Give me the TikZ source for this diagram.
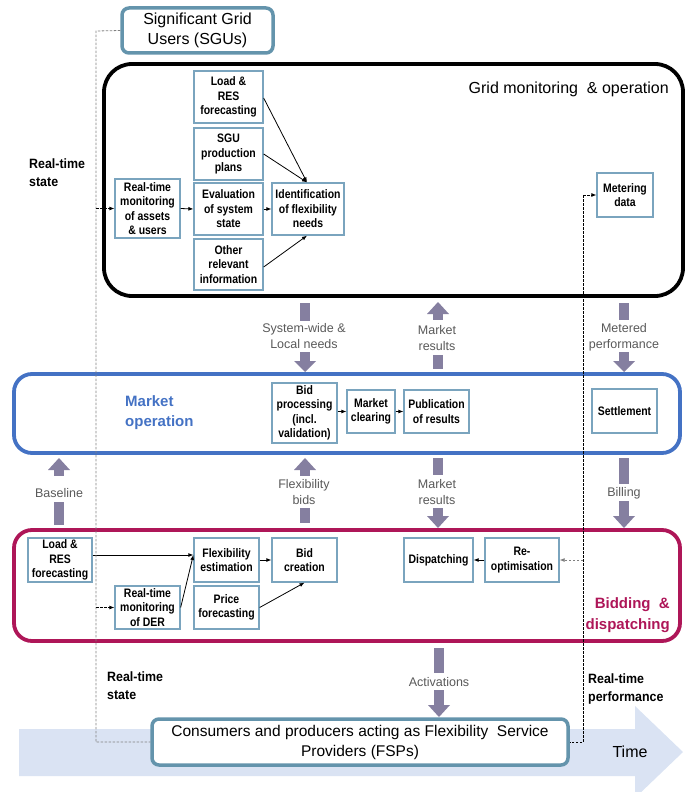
\documentclass[tikz,border=0pt]{standalone}
\usepackage{fontspec}
\setmainfont{Liberation Sans}
\newfontfamily\boxfont[FakeStretch=0.85]{Liberation Sans}
\newfontfamily\labfont[FakeStretch=0.92]{Liberation Sans}
\usetikzlibrary{arrows.meta,calc}
\definecolor{sboxc}{RGB}{122,164,190}
\definecolor{bigbluec}{RGB}{100,148,172}
\definecolor{marketc}{RGB}{68,114,196}
\definecolor{bidc}{RGB}{174,22,88}
\definecolor{timec}{RGB}{218,227,243}
\definecolor{blkc}{RGB}{133,127,160}
\definecolor{labgray}{RGB}{89,89,89}
\newcommand\blkrect[3]{\fill[blkc] ({#1-5},#2) rectangle ({#1+5},#3);}
\newcommand\blkhead[3]{\fill[blkc] ({#1-11},#2) -- ({#1+11},#2) -- (#1,#3) -- cycle;}
\begin{document}
\begin{tikzpicture}[x=1pt,y=-1pt,
  sbox/.style={draw=sboxc, line width=1.3pt, fill=white, align=center,
    font=\boxfont\bfseries\fontsize{12.3}{14.5}\selectfont, inner sep=1pt},
  arr/.style={-{Latex[length=5pt,width=4pt]}, line width=0.8pt},
  darr/.style={-{Latex[length=5pt,width=4pt]}, line width=0.8pt, dash pattern=on 2.5pt off 1.5pt},
  glab/.style={text=labgray, align=center, font=\fontsize{12.5}{16}\selectfont, inner sep=0pt},
  blab/.style={align=left, font=\labfont\bfseries\fontsize{13.5}{18}\selectfont, inner sep=0pt}
]
\useasboundingbox (0,0) rectangle (689,792);

% time arrow
\fill[timec] (19,729) -- (635,729) -- (635,706) -- (683,752) -- (635,798) -- (635,776) -- (19,776) -- cycle;
\node[font=\fontsize{16}{18}\selectfont] (time) at (630,752) {Time};

% containers
\node[draw=black, line width=3.8pt, rounded corners=28pt, minimum width=579pt, minimum height=232pt] (grid) at (393.5,180) {};
\node[draw=marketc, line width=3.8pt, rounded corners=18pt, minimum width=666pt, minimum height=79pt] (market) at (347,413.5) {};
\node[draw=bidc, line width=3.8pt, rounded corners=18pt, minimum width=666pt, minimum height=111pt] (bidding) at (347,585.5) {};

\node[draw=bigbluec, line width=3.5pt, fill=white, rounded corners=7pt, minimum width=151pt, minimum height=45pt, align=center, font=\fontsize{16}{20}\selectfont, inner sep=0pt] (sgu) at (197.5,30.5) {Significant Grid\\Users (SGUs)};
\node[draw=bigbluec, line width=3.5pt, fill=white, rounded corners=7pt, minimum width=416pt, minimum height=46pt, align=center, font=\fontsize{15.5}{20}\selectfont, inner sep=0pt] (fsp) at (360,742) {Consumers and producers acting as Flexibility\ \ Service\\Providers (FSPs)};

% titles
\node[anchor=east, font=\fontsize{16}{18}\selectfont, inner sep=0pt] (gridtitle) at (669,89) {Grid monitoring\ \ \& operation};
\node[anchor=west, text=marketc, font=\bfseries\fontsize{15}{20}\selectfont, align=left, inner sep=0pt] (mtitle) at (125,413) {Market\\operation};
\node[anchor=east, text=bidc, font=\bfseries\fontsize{15}{21}\selectfont, align=right, inner sep=0pt] (btitle) at (670,615) {Bidding\ \ \&\\dispatching};

\node[blab, anchor=west] (rts1) at (29,173) {Real-time\\state};
\node[blab, anchor=west] (rts2) at (107,686) {Real-time\\state};
\node[blab, anchor=west] (rtp) at (588,689) {Real-time\\performance};

% grid inner boxes
\node[sbox, minimum width=69pt, minimum height=52pt] (gload) at (228.5,97) {Load \&\\RES\\forecasting};
\node[sbox, minimum width=69pt, minimum height=52pt] (gsgu) at (228.5,154) {SGU\\production\\plans};
\node[sbox, minimum width=69pt, minimum height=52pt] (geval) at (228.5,209) {Evaluation\\of system\\state};
\node[sbox, minimum width=69pt, minimum height=51pt] (gother) at (228.5,264.5) {Other\\relevant\\information};
\node[sbox, minimum width=65pt, minimum height=59pt] (grtm) at (147.5,208.5) {Real-time\\monitoring\\of assets\\\& users};
\node[sbox, minimum width=72pt, minimum height=52pt] (gident) at (308,209) {Identification\\of flexibility\\needs};
\node[sbox, minimum width=56pt, minimum height=44pt] (gmeter) at (625,195) {Metering\\data};

% market inner boxes
\node[sbox, minimum width=65pt, minimum height=60pt] (mbid) at (304.5,413) {Bid\\processing\\(incl.\\validation)};
\node[sbox, minimum width=48pt, minimum height=43pt] (mclear) at (371,411.5) {Market\\clearing};
\node[sbox, minimum width=65pt, minimum height=43pt] (mpub) at (436.5,411.5) {Publication\\of results};
\node[sbox, minimum width=65pt, minimum height=44pt] (msettle) at (624.5,411) {Settlement};

% bidding inner boxes
\node[sbox, minimum width=64pt, minimum height=44pt] (bload) at (60,560) {Load \&\\RES\\forecasting};
\node[sbox, minimum width=65pt, minimum height=43pt] (brtm) at (147.5,607.5) {Real-time\\monitoring\\of DER};
\node[sbox, minimum width=65pt, minimum height=44pt] (bflex) at (226.5,560) {Flexibility\\estimation};
\node[sbox, minimum width=65pt, minimum height=43pt] (bprice) at (226.5,607.5) {Price\\forecasting};
\node[sbox, minimum width=65pt, minimum height=44pt] (bbidc) at (304.5,560) {Bid\\creation};
\node[sbox, minimum width=69pt, minimum height=44pt] (bdisp) at (438.5,560) {Dispatching};
\node[sbox, minimum width=74pt, minimum height=44pt] (breopt) at (522,560) {Re-\\optimisation};

% thin arrows
\draw[arr] (grtm.east) -- (geval.west);
\draw[arr] (geval.east) -- (gident.west);
\draw[arr] ($(gload.east)+(0,1)$) -- ($(gident.north)+(-1,0)$);
\draw[arr] (gsgu.east) -- ($(gident.north)+(-1,0)$);
\draw[arr] ($(gother.east)+(0,2.5)$) -- ($(gident.south)+(-1,0)$);
\draw[arr] (mbid.east |- mclear.west) -- (mclear.west);
\draw[arr] (mclear.east) -- (mpub.west);
\draw[arr] ($(bload.east)+(0,-5)$) -- ($(bflex.west)+(0,-5)$);
\draw[arr] (brtm.east) -- ($(bflex.west)+(0,-5)$);
\draw[arr] (bflex.east) -- (bbidc.west);
\draw[arr] (bprice.east) -- (bbidc.south);
\draw[arr] (breopt.west) -- (bdisp.east);

% dashed lines left
\coordinate (lt) at (96,31);
\coordinate (lb) at (96,742);
\draw[gray, line width=0.8pt, dash pattern=on 2.5pt off 1.5pt] (sgu.west) -- (lt) -- (lb) -- (fsp.west);
\coordinate (lg) at (96,208.5);
\coordinate (lbd) at (96,607.5);
\draw[darr] (lg) -- (grtm.west);
\draw[darr] (lbd) -- (brtm.west);
% dashed lines right
\coordinate (rt) at (583,195);
\coordinate (rb) at (583,742);
\coordinate (rr) at (583,560);
\draw[black, line width=0.8pt, dash pattern=on 2.5pt off 1.5pt] (rt) -- (rb) -- (fsp.east);
\draw[darr] (rt) -- (gmeter.west);
\draw[darr, gray] (rr) -- (breopt.east);

% block arrows and labels
\blkrect{305}{303}{321}
\blkrect{305}{352}{362}\blkhead{305}{361}{372}
\node[glab] (l1) at (304,336) {System-wide \&\\Local needs};

\blkhead{438}{314}{302}\blkrect{438}{313}{320}
\blkrect{438}{355}{369}
\node[glab] (l2) at (437,338) {Market\\results};

\blkrect{624}{303}{320}
\blkrect{624}{352}{362}\blkhead{624}{361}{372}
\node[glab] (l3) at (624,337) {Metered\\performance};

\blkhead{59}{470}{458}\blkrect{59}{469}{476}
\blkrect{59}{502}{525}
\node[glab] (l4) at (59,493) {Baseline};

\blkhead{305}{470}{458}\blkrect{305}{469}{476}
\blkrect{305}{508}{523}
\node[glab] (l5) at (304,492) {Flexibility\\bids};

\blkrect{438}{458}{475}
\blkrect{438}{508}{517}\blkhead{438}{516}{528}
\node[glab] (l6) at (437,492) {Market\\results};

\blkrect{624}{458}{484}
\blkrect{624}{501}{517}\blkhead{624}{516}{528}
\node[glab] (l7) at (624,493) {Billing};

\blkrect{439}{648}{673}
\blkrect{439}{690}{706}\blkhead{439}{705}{717}
\node[glab] (l8) at (439,682) {Activations};
\end{tikzpicture}
\end{document}
